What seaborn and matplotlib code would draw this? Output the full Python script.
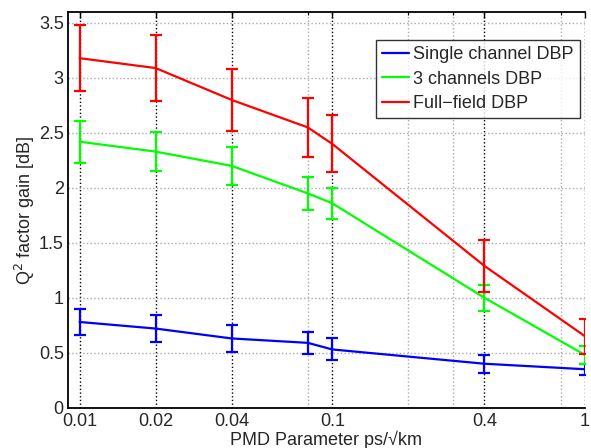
import matplotlib
matplotlib.use("Agg")
import matplotlib.pyplot as plt
import matplotlib.ticker as mticker
import seaborn as sns
import pandas as pd

# PMD parameter values (ps/sqrt(km))
pmd = [0.01, 0.02, 0.04, 0.08, 0.1, 0.4, 1.0]

# Q^2 factor gain [dB] and error half-widths
single_gain = [0.78, 0.72, 0.63, 0.59, 0.53, 0.40, 0.35]
single_err = [0.12, 0.12, 0.12, 0.10, 0.10, 0.08, 0.05]
three_gain = [2.42, 2.33, 2.20, 1.95, 1.86, 1.00, 0.48]
three_err = [0.19, 0.18, 0.17, 0.15, 0.14, 0.12, 0.08]
full_gain = [3.18, 3.09, 2.80, 2.55, 2.40, 1.29, 0.65]
full_err = [0.30, 0.30, 0.28, 0.27, 0.26, 0.24, 0.16]

series_names = ["Single channel DBP", "3 channels DBP", "Full\u2212field DBP"]
series_colors = ["#0000ff", "#00ff00", "#ff0000"]

x_major = [0.01, 0.02, 0.04, 0.1, 0.4, 1]
x_major_labels = ["0.01", "0.02", "0.04", "0.1", "0.4", "1"]
x_minor = [0.08, 0.2, 0.3, 0.8]
y_ticks = [0, 0.5, 1, 1.5, 2, 2.5, 3, 3.5]
y_labels = ["0", "0.5", "1", "1.5", "2", "2.5", "3", "3.5"]

sns.set_style("white")
plt.rcParams["font.family"] = ["Liberation Sans", "DejaVu Sans"]

rows = []
for name, g, e in zip(series_names,
                      [single_gain, three_gain, full_gain],
                      [single_err, three_err, full_err]):
    for x, y, err in zip(pmd, g, e):
        rows.append({"pmd": x, "gain": y, "err": err, "series": name})
df = pd.DataFrame(rows)

fig = plt.figure(figsize=(5.91, 4.48), dpi=100)
ax = fig.add_axes([68 / 591, 1 - 407.7 / 448, 517 / 591, 395.7 / 448])

sns.lineplot(data=df, x="pmd", y="gain", hue="series", hue_order=series_names,
             palette=series_colors, linewidth=1.6, sort=False, ax=ax)
for name, color in zip(series_names, series_colors):
    sub = df[df["series"] == name]
    ax.errorbar(sub["pmd"], sub["gain"], yerr=sub["err"], fmt="none",
                ecolor=color, elinewidth=1.6, capsize=4, capthick=1.6)

ax.set_xscale("log")
ax.set_xlim(0.009, 1.0)
ax.set_ylim(0, 3.6)
ax.xaxis.set_major_locator(mticker.FixedLocator(x_major))
ax.xaxis.set_major_formatter(mticker.FixedFormatter(x_major_labels))
ax.xaxis.set_minor_locator(mticker.FixedLocator(x_minor))
ax.xaxis.set_minor_formatter(mticker.NullFormatter())
ax.set_yticks(y_ticks)
ax.set_yticklabels(y_labels)

ax.grid(True, which="major", axis="x", color="black", linestyle=":", linewidth=1.0)
ax.grid(True, which="minor", axis="x", color="#aaaaaa", linestyle=":", linewidth=1.0)
ax.grid(True, which="major", axis="y", color="#aaaaaa", linestyle=":", linewidth=1.0)

ax.tick_params(axis="both", which="both", direction="in", top=True,
               labelsize=13, color="black")
ax.tick_params(axis="both", which="major", length=4, width=1)
ax.tick_params(axis="x", which="minor", length=2, width=0.8)
ax.tick_params(axis="x", pad=4)
ax.tick_params(axis="y", pad=3)

for side in ["left", "bottom", "top"]:
    ax.spines[side].set_color("black")
    ax.spines[side].set_linewidth(1.3)
ax.spines["right"].set_visible(False)

ax.set_xlabel("PMD Parameter ps/\u221akm", fontsize=13, labelpad=0)
ax.set_ylabel("Q$^2$ factor gain [dB]", fontsize=13, labelpad=1)

leg = ax.legend(loc="upper right", bbox_to_anchor=(0.99, 0.929),
                borderaxespad=0, fontsize=13, frameon=True, fancybox=False,
                edgecolor="black", handlelength=1.5, handletextpad=0.2,
                labelspacing=0.4, borderpad=0.35)
leg.get_frame().set_linewidth(1.0)

fig.savefig("out.png", dpi=100)
